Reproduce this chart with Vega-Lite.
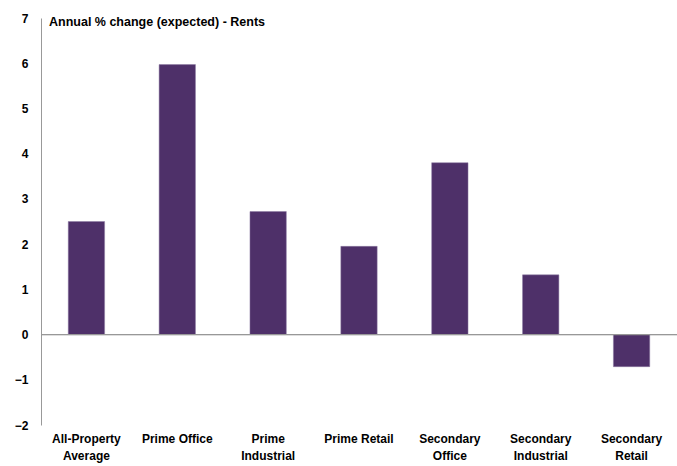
{
  "$schema": "https://vega.github.io/schema/vega-lite/v6.json",
  "width": 636,
  "height": 407,
  "autosize": {"type": "none"},
  "padding": {"left": 41, "top": 18, "right": 0, "bottom": 41},
  "background": "white",
  "config": {
    "view": {"stroke": null},
    "font": "Liberation Sans"
  },
  "title": {
    "text": "Annual % change (expected) - Rents",
    "anchor": "start",
    "frame": "group",
    "orient": "top",
    "offset": -16,
    "dx": 8,
    "font": "Liberation Sans",
    "fontSize": 12.5,
    "fontWeight": "bold",
    "color": "#000000"
  },
  "data": {
    "values": [
      {"category": "All-Property Average", "value": 2.5},
      {"category": "Prime Office", "value": 5.97},
      {"category": "Prime Industrial", "value": 2.72},
      {"category": "Prime Retail", "value": 1.95},
      {"category": "Secondary Office", "value": 3.8},
      {"category": "Secondary Industrial", "value": 1.32},
      {"category": "Secondary Retail", "value": -0.71}
    ]
  },
  "layer": [
    {
      "mark": {"type": "bar", "color": "#4E3069", "stroke": "#8C7AA3", "strokeWidth": 0.5},
      "encoding": {
        "x": {
          "field": "category",
          "type": "nominal",
          "sort": null,
          "scale": {"paddingInner": 0.6, "paddingOuter": 0.3},
          "axis": {
            "title": null,
            "domain": false,
            "ticks": false,
            "labelAngle": 0,
            "labelPadding": 8,
            "labelFont": "Liberation Sans",
            "labelFontSize": 12,
            "labelFontWeight": "bold",
            "labelColor": "#000000",
            "labelLineHeight": 17,
            "labelBaseline": "top",
            "labelExpr": "datum.label == 'Prime Office' || datum.label == 'Prime Retail' ? datum.label : split(datum.label, ' ')"
          }
        },
        "y": {
          "field": "value",
          "type": "quantitative",
          "scale": {"domain": [-2, 7], "nice": false, "zero": false},
          "axis": {
            "title": null,
            "values": [-2, -1, 0, 1, 2, 3, 4, 5, 6, 7],
            "grid": false,
            "ticks": false,
            "domain": true,
            "domainColor": "#999999",
            "domainWidth": 1,
            "labelPadding": 13,
            "labelFont": "Liberation Sans",
            "labelFontSize": 12,
            "labelFontWeight": "bold",
            "labelColor": "#000000"
          }
        }
      }
    },
    {
      "mark": {"type": "rule", "color": "#999999", "strokeWidth": 1},
      "encoding": {"y": {"datum": 0}}
    }
  ]
}
